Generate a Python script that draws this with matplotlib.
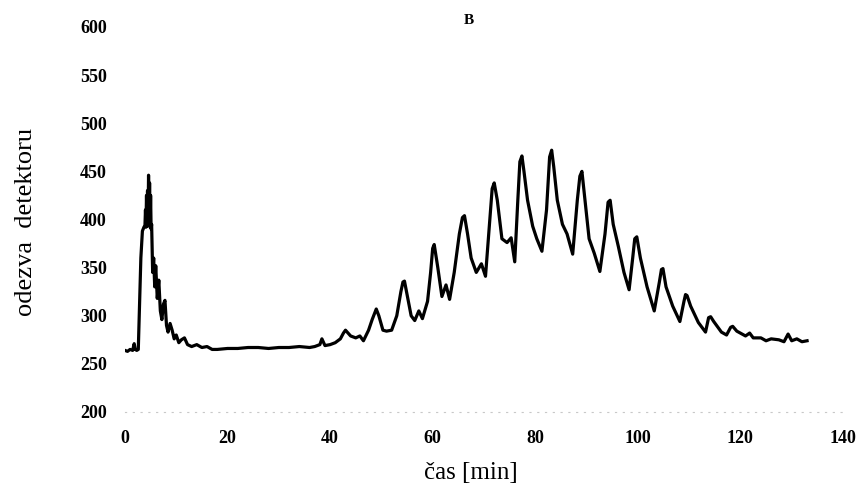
import matplotlib
matplotlib.use("Agg")
import matplotlib.pyplot as plt

# detector trace (time in min, response)
cas = [0, 0.5, 1.0, 1.5, 1.8, 2.0, 2.3, 2.6, 2.9, 3.1, 3.4, 3.7, 3.9, 4.0, 4.1, 4.2, 4.3,
       4.4, 4.5, 4.6, 4.7, 4.8, 4.9, 5.0, 5.1, 5.2, 5.4, 5.6, 5.8, 6.0, 6.3, 6.6, 6.9,
       7.2, 7.5, 7.8, 8.1, 8.4, 8.8, 9.2, 9.6, 10.0, 10.5, 11.0, 11.6, 12.2, 13.0, 14,
       15, 16, 17, 18, 20, 22, 24, 26, 28, 30, 32, 34, 36, 37, 38, 38.4, 39, 40, 41,
       42, 42.6, 43, 43.5, 44, 45, 45.8, 46.5, 47.5, 48.2, 48.7, 49.0, 49.5, 50.3, 51,
       52, 53, 53.8, 54.2, 54.5, 55, 55.8, 56.5, 57.3, 58, 59, 59.6, 60.0, 60.3, 61,
       61.8, 62.6, 63.3, 64.2, 65.2, 65.8, 66.2, 66.8, 67.5, 68.5, 69.5, 70.3, 71,
       71.6, 72.0, 72.6, 73.5, 74.5, 75.3, 76, 76.6, 77.0, 77.4, 77.8, 78.5, 79.5,
       80.3, 81.3, 82.2, 82.8, 83.2, 83.6, 84.3, 85.3, 86.2, 87.3, 88.2, 88.7, 89.1,
       89.7, 90.5, 91.5, 92.6, 93.6, 94.2, 94.6, 95.2, 96.2, 97.3, 98.3, 99, 99.4,
       99.8, 100.5, 101.8, 103.2, 104.2, 104.6, 104.9, 105.5, 106.8, 108.2, 109,
       109.3, 109.6, 110.3, 111.8, 113.2, 113.8, 114.2, 114.8, 116.3, 117.3, 118.1,
       118.5, 119.3, 121, 121.8, 122.5, 124, 125, 126, 127.5, 128.5, 129.3, 130, 131,
       132, 133]
odezva = [264, 263, 265, 264, 271, 265, 264, 265, 322, 360, 388, 392, 394, 410, 392, 425, 393,
          430, 396, 446, 400, 438, 392, 425, 390, 395, 345, 360, 330, 352, 318, 337, 305,
          296, 312, 316, 290, 283, 292, 285, 276, 280, 272, 275, 277, 270, 268, 270,
          267, 268, 265, 265, 266, 266, 267, 267, 266, 267, 267, 268, 267, 268, 270, 276, 269, 270, 272,
          276, 282, 285, 282, 279, 277, 279, 274, 285, 296, 303, 307, 300, 285, 284,
          285, 300, 325, 335, 336, 322, 300, 295, 305, 297, 315, 345, 370, 374, 350,
          320, 332, 317, 345, 385, 402, 404, 385, 360, 345, 354, 341, 390,
          432, 438, 420, 380, 376, 381, 356, 420, 460, 466, 450, 420, 393,
          380, 367, 410, 465, 472, 455, 420, 395, 385, 364, 420, 445, 450,
          420, 380, 365, 346, 385, 418, 420, 395, 372, 345, 327, 360, 380,
          382, 360, 330, 305, 335, 348, 349, 330, 310, 294, 315,
          322, 321, 310, 293, 283, 298, 299, 294, 283, 280, 288,
          289, 284, 279, 282, 277, 277, 274, 276, 275, 273, 281, 274, 276,
          273, 274]

x_ticks = [0, 20, 40, 60, 80, 100, 120, 140]
y_ticks = [200, 250, 300, 350, 400, 450, 500, 550, 600]

plt.rcParams['font.family'] = ['Liberation Serif', 'DejaVu Serif']

fig = plt.figure(figsize=(8.6, 4.98), dpi=100)
ax = fig.add_axes([0.1453, 0.1727, 0.8349, 0.7731])
ax.plot(cas, odezva, color='black', linewidth=2.3, solid_joinstyle='round')

ax.set_xlim(0, 140)
ax.set_ylim(200, 600)
ax.set_xticks(x_ticks)
ax.set_yticks(y_ticks)
ax.tick_params(length=0, labelsize=13)
ax.tick_params(axis='x', pad=13)
ax.tick_params(axis='y', pad=13)
for lab in ax.get_xticklabels() + ax.get_yticklabels():
    lab.set_fontweight('bold')

for side in ['top', 'right', 'left']:
    ax.spines[side].set_visible(False)
ax.spines['bottom'].set_color('#c8c8c8')
ax.spines['bottom'].set_linewidth(0.8)
ax.spines['bottom'].set_linestyle((0, (1, 6)))

fig.text(0.03, 0.555, 'odezva  detektoru', rotation=90, fontsize=19,
         ha='center', va='center')
fig.text(0.548, 0.05, 'čas [min]', fontsize=18, ha='center', va='center')
fig.text(0.545, 0.958, 'B', fontsize=11, fontweight='bold', ha='center', va='center')

fig.savefig('out.png', dpi=100)
